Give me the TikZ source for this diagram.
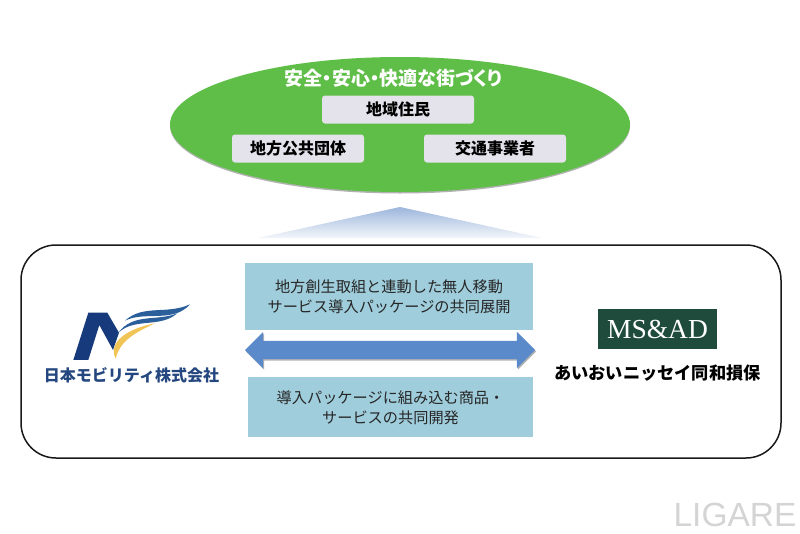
\documentclass[tikz,border=0pt]{standalone}
\usepackage{fontspec}
\setmainfont{Noto Sans CJK JP}
\newfontfamily\goalfont[RawFeature=+palt]{Noto Sans CJK JP}
\newfontfamily\logofont{Liberation Serif}
\newfontfamily\markfont{Liberation Sans}
\usetikzlibrary{positioning}
\usetikzlibrary{shapes,arrows,shadows}
\definecolor{ellipsegreen}{HTML}{5FBE48}
\definecolor{labelgrey}{HTML}{E4E2EB}
\definecolor{infoblue}{HTML}{9FCDDC}
\definecolor{arrowblue}{HTML}{5B8ACB}
\definecolor{triangleblue}{HTML}{9DB6DC}
\definecolor{logonavy}{HTML}{173A7C}
\definecolor{logoblue}{HTML}{2A5F9C}
\definecolor{logoyellow}{HTML}{F0C556}
\definecolor{logotext}{HTML}{25477F}
\definecolor{msadgreen}{HTML}{1E4B3C}
\begin{document}
\begin{tikzpicture}[x=1pt,y=-1pt,
					labelbox/.style={rectangle,
									rounded corners=3pt,
									fill=labelgrey,
									inner sep=0pt,
									minimum height=28pt,
									font=\fontsize{16}{18}\selectfont\bfseries
									},
					infobox/.style={rectangle,
									fill=infoblue,
									inner sep=0pt,
									align=center,
									text=black!85,
									font=\fontsize{15.2}{20}\selectfont
									}
					]
  \useasboundingbox (0,0) rectangle (800,533);
  % top part
  \node[ellipse,fill=ellipsegreen,inner sep=0pt,minimum width=460pt,minimum height=135pt,
        drop shadow={shadow xshift=0pt,shadow yshift=-1.5pt,fill=black,opacity=0.3}] (town) at (400,124.5) { };
  \node[text=white,font=\goalfont\fontsize{19}{20}\selectfont\bfseries] (goal) at (393.5,78) {安全・安心・快適な街づくり};
  \node[labelbox,minimum width=152pt] (residents) at (398,109.5) {地域住民};
  \node[labelbox,minimum width=132pt] (city) at (298,148.5) {地方公共団体};
  \node[labelbox,minimum width=142pt] (transport) at (495,148.5) {交通事業者};
  \shade[top color=triangleblue,bottom color=triangleblue!12] (400,207) -- (542,238) -- (258,238) -- cycle;

  % bottom part
  \node[draw=black!90,line width=1.5pt,rounded corners=35pt,inner sep=0pt,
        minimum width=760pt,minimum height=213pt] (panel) at (401,351.5) { };
  \node[infobox,minimum width=288pt,minimum height=67pt] (package) at (389,296.5) {地方創生取組と連動した無人移動\\サービス導入パッケージの共同展開};
  \node[infobox,minimum width=285pt,minimum height=60pt,below=47pt of package.south,anchor=north,xshift=1.5pt] (product) {導入パッケージに組み込む商品・\\サービスの共同開発};
  \node[double arrow,fill=arrowblue,inner xsep=0pt,inner ysep=9pt,minimum height=290pt,
        double arrow head extend=9pt,double arrow head indent=0pt,
        drop shadow={shadow xshift=1pt,shadow yshift=-1.5pt,fill=black,opacity=0.3}] (link) at (390,350) {};

  % logo left
  \begin{scope}[shift={(20,280)},x=0.3333pt,y=-0.3333pt]
    \fill[logonavy] (160,240) -- (205,98) -- (262,98) -- (297,158) -- (279,210) -- (238,135) -- (205,240) -- cycle;
    \fill[logoblue] (315,122) .. controls (370,72) and (440,105) .. (510,73) .. controls (460,130) and (375,92) .. cycle;
    \fill[logoblue] (295,158) .. controls (340,98) and (410,125) .. (472,100) .. controls (420,145) and (345,112) .. cycle;
    \fill[logoyellow] (287,236) .. controls (262,185) and (325,145) .. (405,130) .. controls (345,158) and (300,182) .. cycle;
  \end{scope}
  \node[text=logotext,font=\fontsize{16}{18}\selectfont\bfseries] (nmlabel) at (131.5,375) {日本モビリティ株式会社};

  % logo right
  \node[fill=msadgreen,text=white,inner sep=0pt,minimum width=119pt,minimum height=40pt,
        font=\logofont\fontsize{27.5}{30}\selectfont] (msad) at (657.5,329) {MS\&AD};
  \node[below=24pt of msad.south,anchor=center,font=\fontsize{17.2}{20}\selectfont\bfseries] (aioi) {あいおいニッセイ同和損保};

  \node[text=black!17,inner sep=0pt,font=\markfont\fontsize{33.5}{36}\selectfont] (ligare) at (735,515) {LIGARE};
\end{tikzpicture}
\end{document}
